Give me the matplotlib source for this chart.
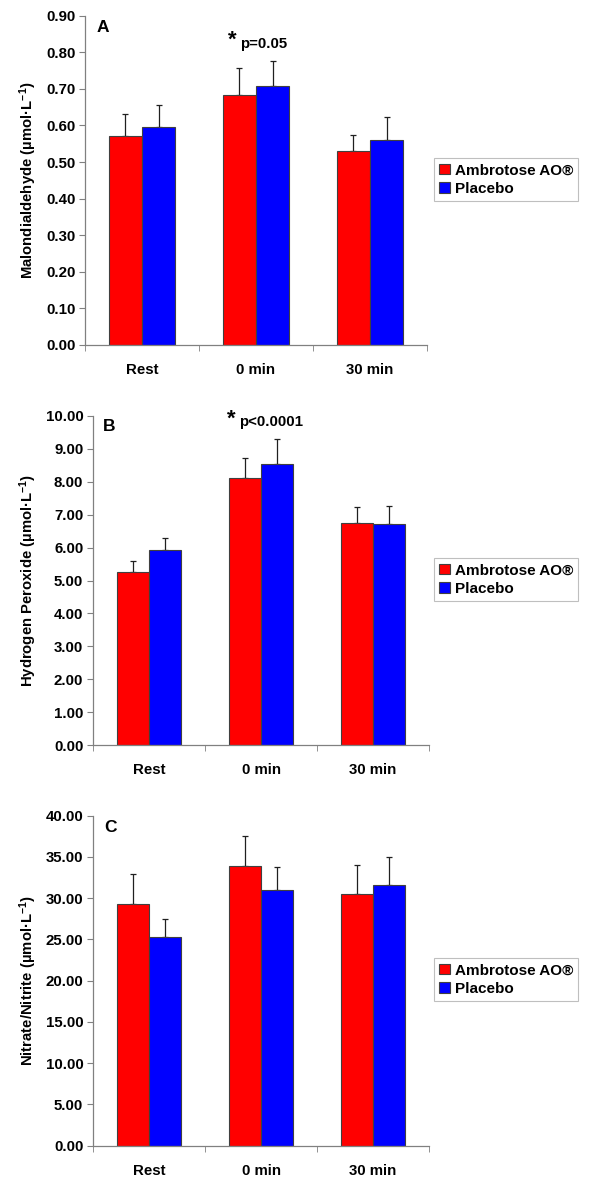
import matplotlib
matplotlib.use("Agg")
import matplotlib.pyplot as plt
from matplotlib.ticker import FormatStrFormatter, FixedLocator

plt.rcParams['font.family'] = ['Liberation Sans', 'DejaVu Sans']
plt.rcParams['font.weight'] = 'bold'
plt.rcParams['mathtext.fontset'] = 'custom'
plt.rcParams['mathtext.rm'] = 'Liberation Sans:bold'
plt.rcParams['mathtext.it'] = 'Liberation Sans:bold'
plt.rcParams['mathtext.bf'] = 'Liberation Sans:bold'
plt.rcParams['mathtext.default'] = 'rm'

categories = ["Rest", "0 min", "30 min"]
series_names = ["Ambrotose AO®", "Placebo"]

mda_ambrotose = [0.570, 0.683, 0.530]
mda_placebo = [0.597, 0.709, 0.559]
mda_ambrotose_err = [0.062, 0.073, 0.045]
mda_placebo_err = [0.060, 0.066, 0.063]

h2o2_ambrotose = [5.26, 8.11, 6.74]
h2o2_placebo = [5.92, 8.54, 6.70]
h2o2_ambrotose_err = [0.34, 0.60, 0.48]
h2o2_placebo_err = [0.38, 0.74, 0.55]

nox_ambrotose = [29.25, 33.90, 30.55]
nox_placebo = [25.25, 31.03, 31.56]
nox_ambrotose_err = [3.64, 3.64, 3.51]
nox_placebo_err = [2.22, 2.79, 3.47]

W, H = 600, 1183
fig = plt.figure(figsize=(W / 100, H / 100), dpi=100)


def rect(L, T, R, B):
    return [L / W, 1 - B / H, (R - L) / W, (B - T) / H]


panels = [
    dict(rect=rect(85, 15.7, 427, 345), vals=(mda_ambrotose, mda_placebo),
         errs=(mda_ambrotose_err, mda_placebo_err), ymax=0.9, ystep=0.1,
         ylabel="Malondialdehyde (µmol·L$^{-1}$)", letter="A",
         sig=("p=0.05", 0.418, 0.925, 0.453, 0.914), legy=(158, 202),
         labx=28, letterxy=(0.035, 0.963)),
    dict(rect=rect(93, 415.7, 429, 745.3), vals=(h2o2_ambrotose, h2o2_placebo),
         errs=(h2o2_ambrotose_err, h2o2_placebo_err), ymax=10.0, ystep=1.0,
         ylabel="Hydrogen Peroxide (µmol·L$^{-1}$)", letter="B",
         sig=("p<0.0001", 0.400, 0.990, 0.435, 0.981), legy=(558, 602),
         labx=28, letterxy=(0.03, 0.967)),
    dict(rect=rect(93, 815.7, 429, 1145.7), vals=(nox_ambrotose, nox_placebo),
         errs=(nox_ambrotose_err, nox_placebo_err), ymax=40.0, ystep=5.0,
         ylabel="Nitrate/Nitrite (µmol·L$^{-1}$)", letter="C",
         sig=None, legy=(958, 1002), labx=28, letterxy=(0.033, 0.964)),
]

colors = ["#ff0000", "#0000ff"]
bw = 0.29
x = list(range(len(categories)))
gray = "#808080"

for p in panels:
    ax = fig.add_axes(p["rect"])
    handles = []
    for i, (v, e) in enumerate(zip(p["vals"], p["errs"])):
        xs = [xi + (i - 0.5) * bw for xi in x]
        b = ax.bar(xs, v, width=bw, color=colors[i], edgecolor="#404040",
                   linewidth=0.8, zorder=2, label=series_names[i])
        handles.append(b)
        ax.errorbar(xs, v, yerr=[[0] * len(v), e], fmt="none", ecolor="#202020",
                    elinewidth=0.9, capsize=2, capthick=0.9, zorder=1)
    ax.set_xlim(-0.5, len(categories) - 0.5)
    ax.set_ylim(0, p["ymax"])
    n = int(round(p["ymax"] / p["ystep"]))
    ax.set_yticks([k * p["ystep"] for k in range(n + 1)])
    ax.yaxis.set_major_formatter(FormatStrFormatter("%.2f"))
    ax.set_xticks(x)
    ax.set_xticklabels(categories)
    ax.xaxis.set_minor_locator(FixedLocator([-0.5, 0.5, 1.5, 2.5]))
    ax.tick_params(axis="x", which="major", length=0, pad=13, labelsize=10.8)
    ax.tick_params(axis="x", which="minor", length=4, color=gray, direction="out")
    ax.tick_params(axis="y", length=4, color=gray, direction="out", labelsize=10.8, pad=3)
    for t in ax.get_xticklabels() + ax.get_yticklabels():
        t.set_fontweight("bold")
    for s in ("top", "right"):
        ax.spines[s].set_visible(False)
    for s in ("left", "bottom"):
        ax.spines[s].set_color(gray)
        ax.spines[s].set_linewidth(0.9)
    ax.set_ylabel(p["ylabel"], fontsize=10.7, fontweight="bold", va="center")
    L = p["rect"][0] * W
    Wd = p["rect"][2] * W
    ax.yaxis.set_label_coords((p["labx"] - L) / Wd, 0.5)
    ax.text(p["letterxy"][0], p["letterxy"][1], p["letter"], transform=ax.transAxes,
            fontsize=12.5, fontweight="bold", ha="left", va="center")
    if p["sig"]:
        txt, ax_, ay_, px_, py_ = p["sig"]
        ax.text(ax_, ay_, "*", transform=ax.transAxes, fontsize=16,
                fontweight="bold", ha="left", va="center")
        ax.text(px_, py_, txt, transform=ax.transAxes, fontsize=10.8,
                fontweight="bold", ha="left", va="center")
    ly0, ly1 = p["legy"]
    leg = fig.legend(handles=handles, labels=series_names, loc="upper left",
                     bbox_to_anchor=(434 / W, 1 - ly0 / H), frameon=True,
                     fancybox=False, edgecolor="#b0b0b0",
                     handlelength=0.7, handleheight=0.7, handletextpad=0.3,
                     borderpad=0.35, labelspacing=0.3, borderaxespad=0,
                     prop={"weight": "bold", "size": 11})
    leg.get_frame().set_linewidth(0.8)

fig.savefig("out.png", dpi=100)
